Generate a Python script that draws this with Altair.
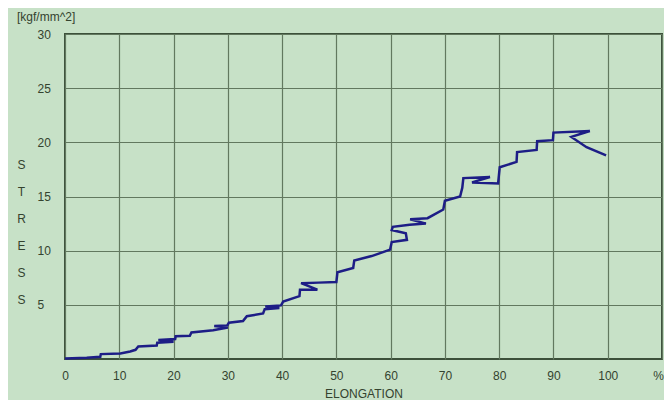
import altair as alt
import pandas as pd

# Stress-elongation curve
elongation = [0.0, 4.0, 6.5, 6.6, 10.2, 12.0, 13.0, 13.5, 16.9, 17.0, 20.0, 17.2, 20.3, 20.4,
              23.0, 23.3, 27.3, 30.0, 27.5, 29.9, 30.2, 32.8, 33.5, 36.5, 36.8, 39.5, 36.9,
              39.8, 40.2, 43.2, 43.3, 46.5, 43.5, 46.7, 50.0, 50.2, 53.1, 53.3, 56.5, 59.9,
              60.2, 63.0, 62.8, 60.2, 60.4, 63.5, 66.5, 63.6, 66.8, 69.7, 70.0, 72.8, 73.2,
              73.4, 78.3, 75.0, 79.8, 80.1, 83.2, 83.3, 86.9, 87.0, 89.9, 90.0, 96.7, 93.3,
              96.1, 99.7]
stress = [0.05, 0.12, 0.2, 0.45, 0.5, 0.7, 0.85, 1.15, 1.25, 1.5, 1.6, 1.75, 1.85, 2.1,
          2.15, 2.45, 2.65, 2.9, 3.05, 3.1, 3.35, 3.5, 3.95, 4.2, 4.6, 4.7, 4.85,
          4.95, 5.3, 5.8, 6.4, 6.4, 7.0, 7.05, 7.1, 8.0, 8.4, 9.1, 9.5, 10.1,
          10.8, 11.0, 11.6, 11.9, 12.2, 12.4, 12.5, 12.9, 13.0, 13.8, 14.6, 15.0, 15.8,
          16.7, 16.8, 16.3, 16.2, 17.7, 18.2, 19.1, 19.3, 20.1, 20.2, 20.9, 21.05, 20.5,
          19.55, 18.8]

x_ticks = [0, 10, 20, 30, 40, 50, 60, 70, 80, 90, 100, 110]
y_ticks = [5, 10, 15, 20, 25, 30]
y_title = ["S", "T", "R", "E", "S", "S"]

df = pd.DataFrame({"e": elongation, "s": stress, "i": list(range(len(elongation)))})

BG = "#c7e1c7"
GRID = "#62785f"
TEXT = "#34432f"
FONT = "Liberation Sans"

chart = alt.Chart(df).mark_line(color="#1d1d86", strokeWidth=2.5).encode(
    x=alt.X(
        "e:Q",
        scale=alt.Scale(domain=[0, 110], nice=False, zero=True),
        axis=alt.Axis(
            values=x_ticks,
            labelExpr="datum.value == 110 ? '%' : datum.label",
            labelOffset={"condition": {"test": "datum.value == 110", "value": -4}, "value": 0},
            title="ELONGATION",
            titleY=34,
            titleBaseline="middle",
            labelPadding=11,
            labelFlush=False,
            labelOverlap=False,
        ),
    ),
    y=alt.Y(
        "s:Q",
        scale=alt.Scale(domain=[0, 30], nice=False),
        axis=alt.Axis(
            values=y_ticks,
            title=y_title,
            titleAngle=0,
            titleX=-44,
            titleY=130,
            titleAlign="center",
            titleBaseline="middle",
            titleLineHeight=27,
            labelAlign="left",
            labelPadding=28,
            labelFlush=False,
        ),
    ),
    order="i:Q",
).properties(
    width=597,
    height=325,
    title=alt.TitleParams(
        "[kgf/mm^2]",
        anchor="start",
        frame="group",
        dx=-48,
        offset=4,
        fontSize=12,
        fontWeight="normal",
        font=FONT,
        color=TEXT,
    ),
    autosize=alt.AutoSizeParams(type="none"),
    padding={"left": 57, "top": 26, "right": 2, "bottom": 41},
    background=BG,
).configure_view(
    fill=BG, stroke="#3c503a", strokeWidth=2
).configure_axis(
    grid=True,
    gridColor=GRID,
    gridWidth=1.2,
    gridOpacity=1,
    domain=False,
    ticks=False,
    tickSize=0,
    labelFont=FONT,
    labelFontSize=12,
    labelColor=TEXT,
    titleFont=FONT,
    titleFontSize=12,
    titleFontWeight="normal",
    titleColor=TEXT,
)

chart.save("out.html", embed_options={"renderer": "svg", "actions": False})
